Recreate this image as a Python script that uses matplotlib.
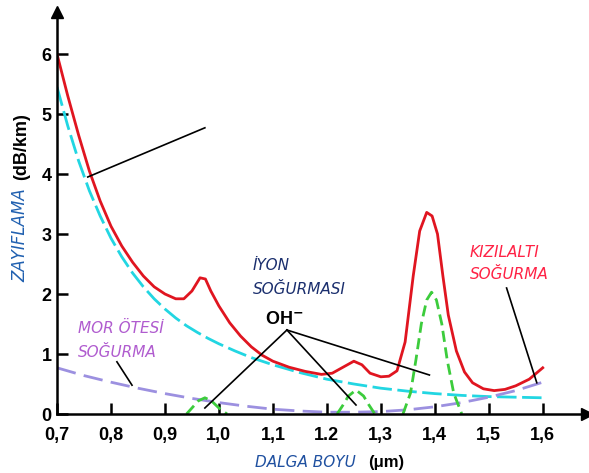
import numpy as np
import matplotlib.pyplot as plt

# Values (wavelength in um, attenuation in dB/km)
red_x = [0.70, 0.72, 0.74, 0.76, 0.78, 0.80, 0.82, 0.84, 0.86, 0.88, 0.90, 0.92, 0.935,
         0.95, 0.965, 0.975, 0.985, 1.00, 1.02, 1.04, 1.06, 1.08, 1.10, 1.13, 1.16, 1.19,
         1.21, 1.23, 1.25, 1.265, 1.28, 1.30, 1.315, 1.33, 1.345, 1.36, 1.372, 1.385,
         1.395, 1.405, 1.415, 1.425, 1.44, 1.455, 1.47, 1.49, 1.51, 1.53, 1.55, 1.575, 1.60]
red_y = [6.00, 5.30, 4.65, 4.05, 3.55, 3.13, 2.80, 2.53, 2.30, 2.12, 2.00, 1.92, 1.92,
         2.05, 2.27, 2.25, 2.05, 1.80, 1.52, 1.30, 1.12, 0.98, 0.88, 0.78, 0.71, 0.66,
         0.68, 0.78, 0.88, 0.82, 0.68, 0.62, 0.63, 0.72, 1.20, 2.30, 3.05, 3.36,
         3.30, 3.00, 2.30, 1.65, 1.05, 0.70, 0.52, 0.42, 0.39, 0.41, 0.47, 0.58, 0.77]

cyan_x = [0.70, 0.72, 0.74, 0.76, 0.78, 0.80, 0.82, 0.84, 0.86, 0.88, 0.90, 0.92, 0.94, 0.96,
          0.98, 1.00, 1.03, 1.06, 1.10, 1.15, 1.20, 1.25, 1.30, 1.35, 1.40, 1.45, 1.50, 1.55, 1.60]
cyan_y = [5.45, 4.80, 4.22, 3.72, 3.30, 2.93, 2.62, 2.35, 2.12, 1.92, 1.75, 1.60, 1.47, 1.36,
          1.26, 1.17, 1.05, 0.94, 0.82, 0.69, 0.58, 0.50, 0.43, 0.38, 0.34, 0.31, 0.29, 0.28, 0.27]

purple_x = [0.70, 0.75, 0.80, 0.85, 0.90, 0.95, 1.00, 1.05, 1.10, 1.15, 1.20, 1.25, 1.30,
            1.35, 1.40, 1.45, 1.50, 1.55, 1.60]
purple_y = [0.77, 0.64, 0.53, 0.43, 0.34, 0.26, 0.19, 0.13, 0.08, 0.05, 0.03, 0.03, 0.04,
            0.07, 0.12, 0.19, 0.28, 0.39, 0.53]

green1_x = [0.94, 0.95, 0.962, 0.974, 0.986, 1.00, 1.015]
green1_y = [0.00, 0.10, 0.22, 0.27, 0.22, 0.10, 0.00]
green2_x = [1.219, 1.23, 1.24, 1.254, 1.268, 1.278, 1.289]
green2_y = [0.00, 0.15, 0.30, 0.40, 0.30, 0.15, 0.00]
green3_x = [1.341, 1.355, 1.365, 1.375, 1.385, 1.394, 1.403, 1.413, 1.423, 1.435, 1.45]
green3_y = [0.00, 0.35, 0.90, 1.50, 1.90, 2.03, 1.90, 1.50, 0.90, 0.35, 0.00]

xticks = [0.7, 0.8, 0.9, 1.0, 1.1, 1.2, 1.3, 1.4, 1.5, 1.6]
xticklabels = ['0,7', '0,8', '0,9', '1,0', '1,1', '1.2', '1,3', '1,4', '1,5', '1,6']
yticks = [0, 1, 2, 3, 4, 5, 6]

fig = plt.figure(figsize=(5.89, 4.73), dpi=100)
ax = fig.add_axes([57 / 589, 1 - 414 / 473, 530 / 589, 402 / 473])

ax.plot(cyan_x, cyan_y, color='#22d6e2', lw=2.0, dashes=(7, 2))
ax.plot(purple_x, purple_y, color='#9c90e0', lw=2.0, dashes=(7, 3))
for gx, gy in [(green1_x, green1_y), (green2_x, green2_y), (green3_x, green3_y)]:
    ax.plot(gx, gy, color='#3ccc3c', lw=2.0, dashes=(4, 2))
ax.plot(red_x, red_y, color='#e01520', lw=2.0, solid_joinstyle='round')

ax.set_xlim(0.7, 1.682)
ax.set_ylim(0, 6.7)
ax.set_xticks(xticks)
ax.set_xticklabels(xticklabels)
ax.set_yticks(yticks)
ax.tick_params(direction='in', length=8, width=1.8)
ax.tick_params(axis='x', pad=9)
ax.tick_params(axis='y', pad=4)
for lab in ax.get_xticklabels() + ax.get_yticklabels():
    lab.set_fontweight('bold')
    lab.set_fontfamily('Liberation Sans')
    lab.set_fontsize(13)
for s in ['top', 'right']:
    ax.spines[s].set_visible(False)
for s in ['left', 'bottom']:
    ax.spines[s].set_linewidth(1.8)
ax.plot(1, 0, '>', color='black', ms=9, transform=ax.transAxes, clip_on=False)
ax.plot(0, 1, '^', color='black', ms=9, transform=ax.transAxes, clip_on=False)

# annotation lines
lk = dict(color='black', lw=1.2)
ax.plot([0.757, 0.974], [3.95, 4.77], **lk)
ax.plot([1.126, 0.974], [1.4, 0.10], **lk)
ax.plot([1.126, 1.254], [1.4, 0.15], **lk)
ax.plot([1.126, 1.39], [1.4, 0.65], **lk)
ax.plot([0.811, 0.839], [0.87, 0.48], **lk)
ax.plot([1.533, 1.589], [2.1, 0.52], **lk)

ax.text(1.063, 2.48, 'İYON', color='#1b2f6e', style='italic', fontsize=11, va='center')
ax.text(1.063, 2.07, 'SOĞURMASI', color='#1b2f6e', style='italic', fontsize=11, va='center')
ax.text(1.085, 1.57, 'OH$^{\\mathbf{-}}$', color='black', fontweight='bold', fontsize=13,
        va='center', family='Liberation Sans')
ax.text(0.739, 1.43, 'MOR ÖTESİ', color='#b05ccf', style='italic', fontsize=11, va='center')
ax.text(0.739, 1.03, 'SOĞURMA', color='#b05ccf', style='italic', fontsize=11, va='center')
ax.text(1.465, 2.70, 'KIZILALTI', color='#ff2245', style='italic', fontsize=11, va='center')
ax.text(1.465, 2.32, 'SOĞURMA', color='#ff2245', style='italic', fontsize=11, va='center')

fig.text(20 / 589, 1 - 282 / 473, 'ZAYIFLAMA', rotation=90, color='#2060b0', style='italic',
         fontsize=12, ha='center', va='bottom')
fig.text(22 / 589, 1 - 180 / 473, '(dB/km)', rotation=90, color='black', fontweight='bold',
         fontsize=13, ha='center', va='bottom', family='Liberation Sans')
fig.text(255 / 589, 1 - 462 / 473, 'DALGA BOYU', color='#1f50a0', style='italic',
         fontsize=11, ha='left', va='center')
fig.text(368 / 589, 1 - 462 / 473, '(μm)', color='black', fontweight='bold',
         fontsize=12, ha='left', va='center', family='Liberation Sans')

fig.savefig('out.png', dpi=100)
